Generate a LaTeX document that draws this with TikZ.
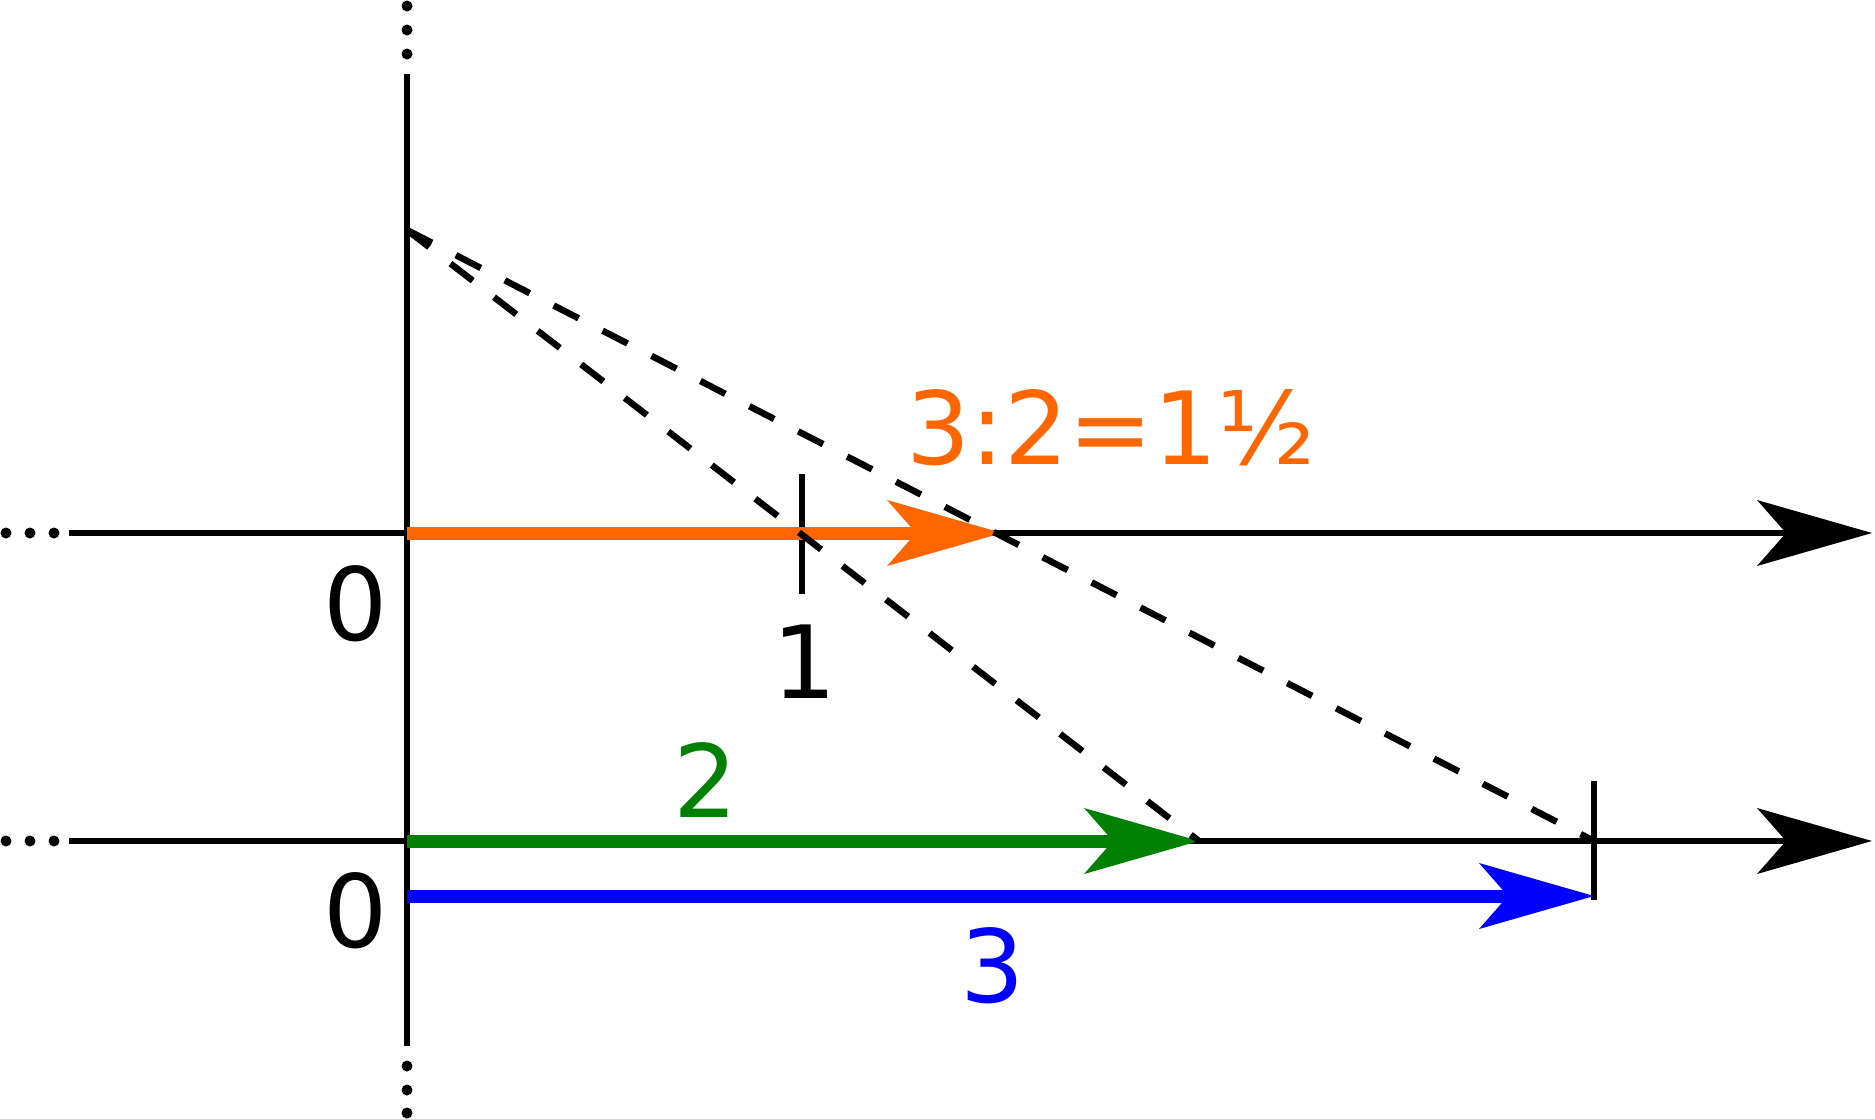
\documentclass[tikz,border=0pt]{standalone}
\usepackage{fontspec}
\setmainfont{DejaVu Sans}
\usetikzlibrary{arrows.meta}
\definecolor{myorange}{HTML}{FF6600}
\definecolor{mygreen}{HTML}{008000}
\definecolor{myblue}{HTML}{0000FF}
\begin{document}
\begin{tikzpicture}[x=1pt,y=-1pt,
  bigtip/.tip={Stealth[length=115pt,width=66pt,inset=29pt,line width=0pt]},
  axisline/.style={line width=6.5pt},
  axisarrow/.style={line width=6.5pt,-bigtip},
  vecarrow/.style={line width=13pt,-bigtip},
  tickmark/.style={line width=6.5pt},
  dashline/.style={line width=6.5pt,dash pattern=on 28pt off 27pt},
  dotmark/.style={fill=black},
  lab/.style={inner sep=0pt,font=\fontsize{101}{115}\selectfont}]
\useasboundingbox (0,0) rectangle (1875,1119);
% coordinates
\coordinate (P) at (407,230);
\coordinate (vtop) at (407,74);
\coordinate (vbot) at (407,1046);
\coordinate (a1l) at (69,533);
\coordinate (a1r) at (1872,533);
\coordinate (a2l) at (69,841);
\coordinate (a2r) at (1872,841);
\coordinate (O1) at (407,533);
\coordinate (O2) at (407,841);
\coordinate (B0) at (407,896);
\coordinate (one) at (802,533);
\coordinate (res) at (1002,533);
\coordinate (two) at (1199,841);
\coordinate (three) at (1594,841);
\coordinate (threeb) at (1594,896);
\coordinate (t1a) at (802,474);
\coordinate (t1b) at (802,594);
\coordinate (t3a) at (1594,781);
\coordinate (t3b) at (1594,900);
% vertical axis
\draw[axisline] (vtop) -- (vbot);
\foreach \yy in {6,30,54,1066,1090,1113} \fill[dotmark] (407,\yy) circle (5.5);
% horizontal axes
\draw[axisarrow] (a1l) -- (a1r);
\draw[axisarrow] (a2l) -- (a2r);
\foreach \xx in {6,30,54} {\fill[dotmark] (\xx,533) circle (5.5); \fill[dotmark] (\xx,841) circle (5.5);}
% ticks
\draw[tickmark] (t1a) -- (t1b);
\draw[tickmark] (t3a) -- (t3b);
% colored arrows
\draw[vecarrow,myorange] (O1) -- (res);
\draw[vecarrow,mygreen] (O2) -- (two);
\draw[vecarrow,myblue] (B0) -- (threeb);
% dashed lines
\draw[dashline] (P) -- (two);
\draw[dashline] (P) -- (three);
% labels
\node[lab] (z1) at (356,604) {0};
\node[lab] (z2) at (356,911) {0};
\node[lab] (l1) at (805,662) {1};
\node[lab,mygreen] (l2) at (706,780) {2};
\node[lab,myblue] (l3) at (993,966) {3};
\node[lab,myorange] (lr) at (1111,428) {3:2=1½};
\end{tikzpicture}
\end{document}
